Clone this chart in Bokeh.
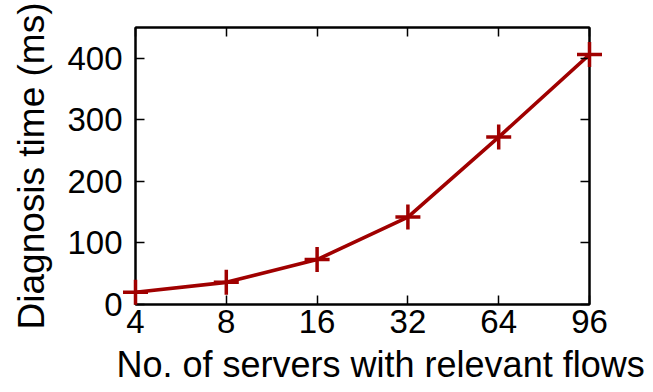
from bokeh.plotting import figure
from bokeh.models import Range1d, FixedTicker, LinearAxis, Title, ColumnDataSource
from bokeh.embed import file_html
from bokeh.resources import INLINE

servers = ["4", "8", "16", "32", "64", "96"]
diag_ms = [20, 36, 73, 142, 272, 406]
y_ticks = [0, 100, 200, 300, 400]

FONT = "Liberation Sans"
RED = "#A00000"

xs = list(range(len(servers)))
src = ColumnDataSource(dict(x=xs, y=diag_ms))

p = figure(width=653, height=392, output_backend="svg", toolbar_location=None,
           x_range=Range1d(0, len(servers) - 1), y_range=Range1d(0, 450),
           min_border_left=135, min_border_right=64, min_border_top=27, min_border_bottom=88,
           x_axis_label=None, y_axis_label="Diagnosis time (ms)")
p.grid.visible = False
p.background_fill_color = "white"
p.border_fill_color = "white"
p.outline_line_color = "black"
p.outline_line_width = 2

xt = FixedTicker(ticks=xs)
yt = FixedTicker(ticks=y_ticks)
overrides = {i: s for i, s in enumerate(servers)}

def style(ax):
    ax.major_tick_in = 9
    ax.major_tick_out = 0
    ax.minor_tick_line_color = None
    ax.major_tick_line_width = 1.5
    ax.major_tick_line_color = "black"
    ax.axis_line_color = "black"
    ax.axis_line_width = 2
    ax.major_label_text_font = FONT
    ax.major_label_text_color = "black"

xa = p.xaxis[0]
xa.ticker = xt
xa.major_label_overrides = overrides
style(xa)
xa.major_label_text_font_size = "33px"
xa.major_label_standoff = 5

ya = p.yaxis[0]
ya.ticker = yt
style(ya)
ya.major_label_text_font_size = "33px"
ya.major_label_standoff = 13
ya.axis_label_text_font = FONT
ya.axis_label_text_font_size = "37px"
ya.axis_label_text_font_style = "normal"
ya.axis_label_text_color = "black"
ya.axis_label_standoff = 12

top = LinearAxis(ticker=xt, major_label_overrides={i: "" for i in xs})
style(top)
top.major_label_standoff = 0
p.add_layout(top, "above")
right = LinearAxis(ticker=yt, major_label_overrides={t: "" for t in y_ticks})
style(right)
right.major_label_standoff = 0
p.add_layout(right, "right")

xlabel = Title(text="No. of servers with relevant flows", align="left", offset=-19,
               text_font=FONT, text_font_size="36px", text_font_style="normal",
               text_color="black", standoff=12)
p.add_layout(xlabel, "below")

p.line("x", "y", source=src, line_color=RED, line_width=3.6)
p.scatter("x", "y", source=src, marker="cross", size=25, line_color=RED,
          line_width=3.5, level="overlay")

open("out.html", "w").write(file_html(p, INLINE))
